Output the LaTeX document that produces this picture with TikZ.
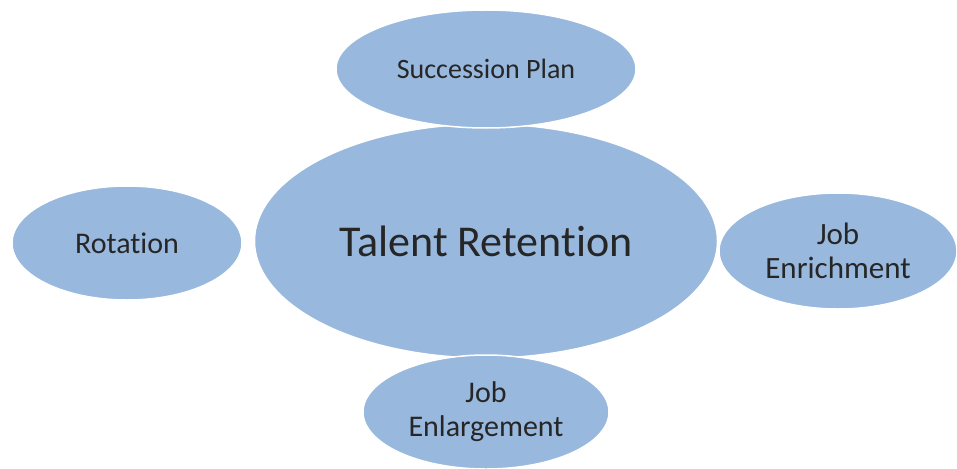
\documentclass[tikz,border=0pt]{standalone}
\usepackage{fontspec}
\setmainfont{Carlito}[Ligatures=NoCommon]
\usetikzlibrary{shapes.geometric}
\definecolor{ovalfill}{RGB}{152,184,222}
\definecolor{ovaltext}{RGB}{38,38,38}

\begin{document}
\begin{tikzpicture}[x=1pt,y=-1pt,
  oval/.style={ellipse, draw=white, line width=1.5pt, fill=ovalfill,
    inner sep=0pt, text=ovaltext, align=center}]
  \useasboundingbox (0,0) rectangle (957,468);
  % big one in the middle
  \node[oval, minimum width=463pt, minimum height=234pt,
    font=\fontsize{44}{53}\selectfont] (talent) at (486,241) {Talent Retention};
  % the four around it
  \foreach \n/\x/\y/\w/\h/\fs/\t in {
    succ/486/69/300/118/28/{Succession Plan},
    rot/127/243/230/114/30/Rotation,
    enrich/838/251/238/116/31/{Job\\Enrichment},
    enlarge/486/412/246/114/30/{Job\\Enlargement}}{
    \node[oval, minimum width=\w pt, minimum height=\h pt,
      font=\fontsize{\fs}{34}\selectfont] (\n) at (\x,\y) {\t};
  }
\end{tikzpicture}
\end{document}
